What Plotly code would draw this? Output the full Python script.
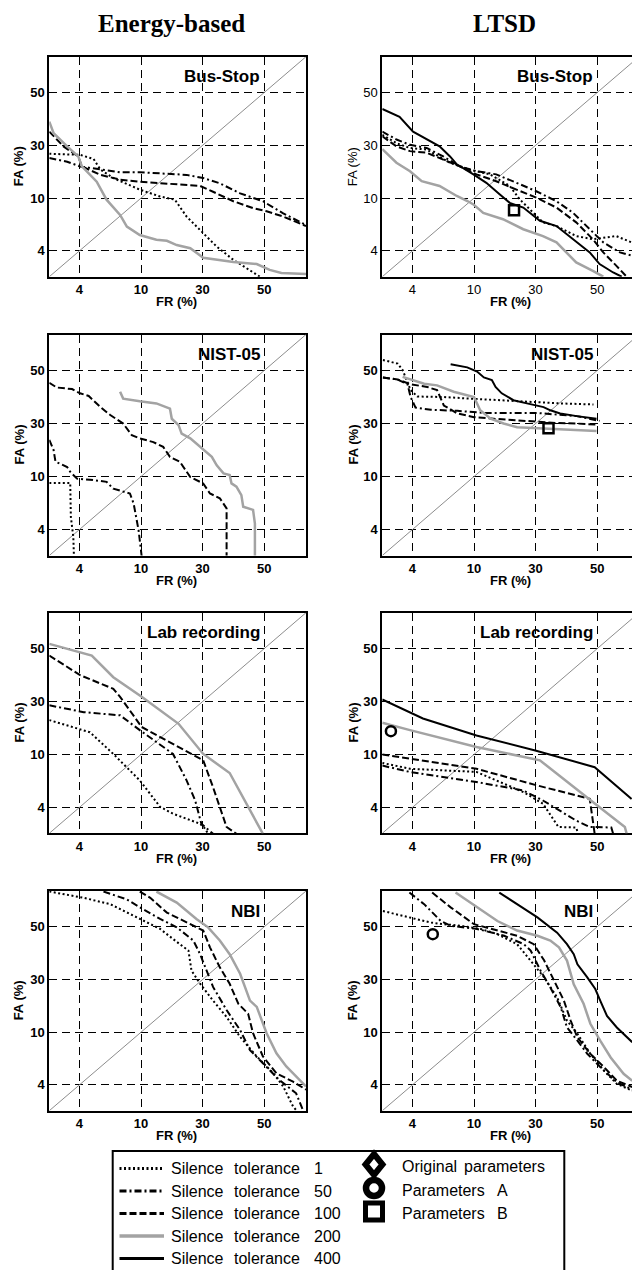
import plotly.graph_objects as go

W, H = 632, 1270

# ---------------- DATA ----------------
# Both axes use the DET (normal-deviate-like) scale of the figure, whose labelled
# ticks are equally spaced: axis unit 1 <-> 4 %, 2 <-> 10 %, 3 <-> 30 %, 4 <-> 50 %.
TICK_POS = [1, 2, 3, 4]
TICK_TEXT = ["4", "10", "30", "50"]
TOLERANCES = [1, 50, 100, 200, 400]
COLUMN_TITLES = ["Energy-based", "LTSD"]
PANEL_TITLES = ["Bus-Stop", "NIST-05", "Lab recording", "NBI"]

# Energy-based, Bus-Stop
EB_BUS_T1_FR = [0.51, 1.01, 1.23, 1.34, 1.55, 1.98, 2.31, 2.55, 2.74, 3.01, 3.23, 3.50, 3.88, 3.93]
EB_BUS_T1_FA = [2.84, 2.82, 2.74, 2.54, 2.38, 2.16, 2.03, 1.97, 1.65, 1.34, 1.08, 0.83, 0.55, 0.51]
EB_BUS_T50_FR = [0.51, 0.80, 1.01, 1.34, 1.66, 1.98, 2.36, 2.74, 3.01, 3.28, 3.61, 3.98, 4.31, 4.68]
EB_BUS_T50_FA = [2.76, 2.69, 2.60, 2.54, 2.49, 2.49, 2.47, 2.44, 2.38, 2.28, 2.09, 1.94, 1.71, 1.49]
EB_BUS_T100_FR = [0.51, 0.74, 0.98, 1.04, 1.34, 1.66, 1.98, 2.42, 2.96, 3.17, 3.50, 3.82, 4.04, 4.31, 4.68]
EB_BUS_T100_FA = [3.26, 2.98, 2.79, 2.60, 2.44, 2.35, 2.31, 2.28, 2.23, 2.12, 1.94, 1.81, 1.75, 1.65, 1.47]
EB_BUS_T200_FR = [0.51, 0.58, 0.80, 0.98, 1.04, 1.17, 1.28, 1.44, 1.66, 1.77, 1.98, 2.25, 2.42, 2.58,
                  2.80, 3.01, 3.23, 3.50, 3.88, 3.98, 4.09, 4.28, 4.68]
EB_BUS_T200_FA = [3.45, 3.23, 2.98, 2.79, 2.60, 2.44, 2.31, 1.97, 1.68, 1.46, 1.30, 1.21, 1.19, 1.11,
                  1.05, 0.87, 0.83, 0.79, 0.75, 0.70, 0.64, 0.58, 0.56]

# Energy-based, NIST-05
EB_NIST_T1_FR = [0.51, 0.85, 0.86, 0.90, 0.91]
EB_NIST_T1_FA = [1.88, 1.88, 1.24, 0.86, 0.50]
EB_NIST_T50_FR = [0.51, 0.58, 0.61, 0.80, 0.85, 0.96, 1.17, 1.44, 1.55, 1.82, 1.88, 1.96, 2.01]
EB_NIST_T50_FA = [2.69, 2.50, 2.28, 2.18, 2.09, 1.96, 1.94, 1.90, 1.77, 1.68, 1.49, 0.99, 0.50]
EB_NIST_T100_FR = [0.51, 0.63, 0.88, 1.01, 1.15, 1.34, 1.50, 1.71, 1.85, 1.98, 2.20, 2.36, 2.47, 2.63,
                   2.80, 3.01, 3.12, 3.28, 3.39, 3.39]
EB_NIST_T100_FA = [3.77, 3.68, 3.65, 3.57, 3.52, 3.31, 3.16, 3.00, 2.78, 2.72, 2.65, 2.56, 2.37, 2.28,
                   1.99, 1.87, 1.68, 1.59, 1.40, 0.50]
EB_NIST_T200_FR = [1.66, 1.71, 1.98, 2.25, 2.47, 2.50, 2.61, 2.66, 2.80, 2.96, 3.15, 3.23, 3.34, 3.44,
                   3.47, 3.55, 3.63, 3.66, 3.82, 3.85, 3.85]
EB_NIST_T200_FA = [3.60, 3.47, 3.42, 3.38, 3.28, 3.09, 2.97, 2.81, 2.72, 2.56, 2.37, 2.21, 2.06, 2.03,
                   1.87, 1.81, 1.65, 1.43, 1.37, 1.11, 0.50]

# Energy-based, Lab recording
EB_LAB_T1_FR = [0.51, 1.17, 1.55, 1.98, 2.31, 2.52, 2.96, 3.04, 3.09]
EB_LAB_T1_FA = [2.65, 2.42, 2.01, 1.51, 1.01, 0.88, 0.69, 0.60, 0.50]
EB_LAB_T50_FR = [0.51, 1.07, 1.66, 1.98, 2.52, 2.74, 2.88, 2.98, 3.17]
EB_LAB_T50_FA = [2.93, 2.80, 2.74, 2.46, 2.01, 1.51, 1.13, 0.69, 0.50]
EB_LAB_T100_FR = [0.51, 1.01, 1.55, 1.66, 2.01, 2.52, 3.01, 3.17, 3.39, 3.55]
EB_LAB_T100_FA = [3.87, 3.50, 3.24, 3.09, 2.52, 2.20, 1.89, 1.38, 0.63, 0.50]
EB_LAB_T200_FR = [0.51, 1.20, 1.55, 2.01, 2.61, 3.01, 3.44, 3.98]
EB_LAB_T200_FA = [4.09, 3.87, 3.46, 3.09, 2.58, 2.01, 1.65, 0.50]

# Energy-based, NBI
EB_NBI_T1_FR = [0.51, 1.07, 1.50, 1.98, 2.31, 2.63, 2.77, 2.82, 2.96, 3.17, 3.39, 3.61, 3.88, 4.15,
                4.31, 4.47, 4.52]
EB_NBI_T1_FA = [4.67, 4.55, 4.43, 4.15, 3.96, 3.67, 3.55, 3.17, 2.92, 2.60, 2.29, 1.91, 1.54, 1.22,
                0.97, 0.59, 0.52]
EB_NBI_T50_FR = [1.39, 1.77, 2.04, 2.31, 2.58, 2.85, 2.96, 3.04, 3.17, 3.39, 3.61, 3.77, 3.98, 4.25,
                 4.52, 4.63]
EB_NBI_T50_FA = [4.67, 4.52, 4.33, 4.15, 3.99, 3.74, 3.48, 3.23, 2.86, 2.42, 2.04, 1.66, 1.41, 1.09,
                 0.84, 0.52]
EB_NBI_T100_FR = [1.98, 2.15, 2.42, 2.74, 3.01, 3.12, 3.28, 3.44, 3.58, 3.74, 3.82, 3.98, 4.20, 4.47, 4.68]
EB_NBI_T100_FA = [4.67, 4.55, 4.27, 4.08, 3.93, 3.61, 3.23, 2.92, 2.54, 2.35, 1.98, 1.54, 1.22, 1.06, 0.91]
EB_NBI_T200_FR = [2.25, 2.58, 2.90, 3.09, 3.28, 3.44, 3.61, 3.77, 3.88, 4.04, 4.20, 4.36, 4.68]
EB_NBI_T200_FA = [4.67, 4.46, 4.15, 3.99, 3.74, 3.48, 3.11, 2.60, 2.48, 1.98, 1.60, 1.35, 0.97]

# LTSD, Bus-Stop
LT_BUS_T1_FR = [0.51, 0.74, 0.96, 1.23, 1.61, 1.93, 2.26, 2.58, 2.74, 2.91, 3.12, 3.34, 3.66, 3.93,
                4.10, 4.31, 4.56]
LT_BUS_T1_FA = [3.20, 3.04, 2.95, 2.92, 2.67, 2.54, 2.45, 2.23, 1.98, 1.79, 1.54, 1.47, 1.28, 1.22,
                1.25, 1.28, 1.16]
LT_BUS_T50_FR = [0.51, 0.74, 0.96, 1.23, 1.50, 1.77, 2.04, 2.36, 2.69, 3.01, 3.34, 3.61, 3.88, 4.10,
                 4.37, 4.56]
LT_BUS_T50_FA = [3.26, 3.11, 3.01, 2.95, 2.79, 2.60, 2.51, 2.45, 2.29, 2.13, 1.94, 1.72, 1.41, 1.16,
                 0.97, 0.91]
LT_BUS_T100_FR = [0.51, 0.74, 0.96, 1.23, 1.50, 1.77, 2.04, 2.36, 2.69, 3.01, 3.34, 3.66, 3.93, 4.10,
                  4.31, 4.48]
LT_BUS_T100_FA = [3.17, 2.98, 2.89, 2.86, 2.73, 2.60, 2.45, 2.32, 2.16, 2.01, 1.82, 1.54, 1.22, 0.97,
                  0.72, 0.51]
LT_BUS_T200_FR = [0.51, 0.74, 0.96, 1.15, 1.44, 1.72, 1.90, 1.99, 2.15, 2.47, 2.80, 3.12, 3.34, 3.66,
                  3.93, 4.10]
LT_BUS_T200_FA = [2.93, 2.67, 2.51, 2.32, 2.23, 2.04, 1.94, 1.88, 1.72, 1.60, 1.41, 1.28, 1.16, 0.78,
                  0.62, 0.51]
LT_BUS_T400_FR = [0.51, 0.79, 1.01, 1.17, 1.44, 1.61, 1.72, 1.99, 2.20, 2.42, 2.58, 2.80, 2.91, 3.07,
                  3.34, 3.61, 3.88, 4.04, 4.26, 4.40]
LT_BUS_T400_FA = [3.69, 3.54, 3.26, 3.15, 2.98, 2.79, 2.64, 2.45, 2.29, 2.07, 1.91, 1.82, 1.72, 1.57,
                  1.47, 1.22, 0.97, 0.75, 0.59, 0.51]
LT_BUS_PARAM_B = (2.65, 1.77)

# LTSD, NIST-05
LT_NIST_T1_FR = [0.52, 0.76, 0.84, 0.97, 1.08, 1.51, 1.94, 2.37, 2.86, 3.40, 3.94]
LT_NIST_T1_FA = [4.20, 4.13, 4.01, 3.63, 3.51, 3.50, 3.47, 3.44, 3.41, 3.38, 3.36]
LT_NIST_T50_FR = [0.52, 0.76, 0.92, 0.97, 1.05, 1.30, 1.73, 2.16, 2.59, 3.02, 3.34, 3.67, 4.04]
LT_NIST_T50_FA = [3.87, 3.83, 3.74, 3.50, 3.30, 3.26, 3.24, 3.20, 3.20, 3.20, 3.17, 3.14, 3.05]
LT_NIST_T100_FR = [0.52, 0.76, 0.97, 1.24, 1.40, 1.51, 1.73, 2.00, 2.32, 2.70, 3.02, 3.34, 3.67, 3.99]
LT_NIST_T100_FA = [3.87, 3.83, 3.74, 3.69, 3.63, 3.34, 3.19, 3.12, 3.09, 3.06, 3.03, 3.01, 3.00, 2.98]
LT_NIST_T200_FR = [0.84, 0.97, 1.19, 1.40, 1.67, 2.00, 2.05, 2.10, 2.27, 2.48, 2.70, 3.02, 3.24, 3.67, 3.99]
LT_NIST_T200_FA = [3.88, 3.83, 3.75, 3.72, 3.60, 3.50, 3.38, 3.25, 3.09, 3.00, 2.93, 2.91, 2.90, 2.88, 2.86]
LT_NIST_T400_FR = [1.62, 1.89, 2.05, 2.16, 2.29, 2.35, 2.45, 2.64, 2.86, 3.13, 3.24, 3.40, 3.67, 3.99]
LT_NIST_T400_FA = [4.12, 4.06, 3.98, 3.87, 3.82, 3.69, 3.57, 3.44, 3.38, 3.31, 3.25, 3.19, 3.14, 3.09]
LT_NIST_PARAM_B = (3.21, 2.91)

# LTSD, Lab recording
LT_LAB_T1_FR = [0.51, 0.96, 2.04, 2.80, 3.12, 3.37, 3.66, 3.69]
LT_LAB_T1_FA = [1.84, 1.73, 1.67, 1.29, 1.07, 0.63, 0.62, 0.50]
LT_LAB_T50_FR = [0.51, 0.96, 2.04, 2.80, 3.12, 3.66, 3.88, 4.23, 4.26]
LT_LAB_T50_FA = [1.79, 1.67, 1.48, 1.32, 1.13, 0.75, 0.63, 0.62, 0.50]
LT_LAB_T100_FR = [0.51, 0.96, 2.04, 3.01, 3.88, 3.96]
LT_LAB_T100_FA = [2.00, 1.92, 1.73, 1.42, 1.16, 0.50]
LT_LAB_T200_FR = [0.51, 0.96, 2.04, 3.07, 3.93, 4.45, 4.48]
LT_LAB_T200_FA = [2.60, 2.46, 2.14, 1.89, 1.10, 0.63, 0.50]
LT_LAB_T400_FR = [0.51, 1.17, 2.04, 3.01, 3.96, 4.56]
LT_LAB_T400_FA = [3.04, 2.68, 2.36, 2.07, 1.76, 1.16]
LT_LAB_PARAM_A = (0.65, 2.44)

# LTSD, NBI
LT_NBI_T1_FR = [0.52, 0.97, 1.30, 1.51, 1.78, 2.11, 2.38, 2.70, 2.92, 3.14, 3.35, 3.51, 3.68, 3.89,
                4.11, 4.32, 4.57]
LT_NBI_T1_FA = [4.30, 4.18, 4.08, 4.05, 4.02, 3.96, 3.86, 3.67, 3.36, 3.04, 2.66, 2.22, 1.97, 1.59,
                1.27, 1.02, 0.89]
LT_NBI_T50_FR = [0.95, 1.19, 1.46, 1.62, 2.05, 2.49, 2.81, 2.92, 3.08, 3.24, 3.41, 3.51, 3.68, 3.84,
                 4.05, 4.32, 4.57]
LT_NBI_T50_FA = [4.65, 4.43, 4.11, 4.02, 3.96, 3.83, 3.67, 3.55, 3.17, 2.85, 2.47, 2.09, 1.84, 1.59,
                 1.34, 1.05, 0.91]
LT_NBI_T100_FR = [1.32, 1.62, 2.00, 2.38, 2.70, 2.97, 3.14, 3.30, 3.46, 3.57, 3.68, 3.89, 4.11, 4.32, 4.57]
LT_NBI_T100_FA = [4.65, 4.37, 4.05, 3.93, 3.83, 3.67, 3.36, 2.98, 2.60, 2.22, 1.90, 1.59, 1.34, 1.08, 0.96]
LT_NBI_T200_FR = [1.70, 2.05, 2.38, 2.70, 3.03, 3.24, 3.38, 3.51, 3.62, 3.78, 3.89, 4.05, 4.22, 4.43, 4.57]
LT_NBI_T200_FA = [4.65, 4.37, 4.11, 3.93, 3.83, 3.74, 3.61, 3.36, 2.91, 2.54, 2.16, 1.84, 1.52, 1.21, 1.08]
LT_NBI_T400_FR = [2.41, 2.70, 3.03, 3.35, 3.51, 3.62, 3.68, 3.84, 3.97, 4.05, 4.16, 4.32, 4.57]
LT_NBI_T400_FA = [4.65, 4.43, 4.18, 3.89, 3.67, 3.48, 3.29, 3.04, 2.82, 2.60, 2.31, 2.09, 1.81]
LT_NBI_PARAM_A = (1.33, 3.86)

# ---------------- table built from the arrays ----------------
PANELS = [
    dict(row=0, col=0, curves={1: (EB_BUS_T1_FR, EB_BUS_T1_FA), 50: (EB_BUS_T50_FR, EB_BUS_T50_FA),
                               100: (EB_BUS_T100_FR, EB_BUS_T100_FA), 200: (EB_BUS_T200_FR, EB_BUS_T200_FA)},
         points=[]),
    dict(row=0, col=1, curves={1: (LT_BUS_T1_FR, LT_BUS_T1_FA), 50: (LT_BUS_T50_FR, LT_BUS_T50_FA),
                               100: (LT_BUS_T100_FR, LT_BUS_T100_FA), 200: (LT_BUS_T200_FR, LT_BUS_T200_FA),
                               400: (LT_BUS_T400_FR, LT_BUS_T400_FA)},
         points=[("B", LT_BUS_PARAM_B)]),
    dict(row=1, col=0, curves={1: (EB_NIST_T1_FR, EB_NIST_T1_FA), 50: (EB_NIST_T50_FR, EB_NIST_T50_FA),
                               100: (EB_NIST_T100_FR, EB_NIST_T100_FA), 200: (EB_NIST_T200_FR, EB_NIST_T200_FA)},
         points=[]),
    dict(row=1, col=1, curves={1: (LT_NIST_T1_FR, LT_NIST_T1_FA), 50: (LT_NIST_T50_FR, LT_NIST_T50_FA),
                               100: (LT_NIST_T100_FR, LT_NIST_T100_FA), 200: (LT_NIST_T200_FR, LT_NIST_T200_FA),
                               400: (LT_NIST_T400_FR, LT_NIST_T400_FA)},
         points=[("B", LT_NIST_PARAM_B)]),
    dict(row=2, col=0, curves={1: (EB_LAB_T1_FR, EB_LAB_T1_FA), 50: (EB_LAB_T50_FR, EB_LAB_T50_FA),
                               100: (EB_LAB_T100_FR, EB_LAB_T100_FA), 200: (EB_LAB_T200_FR, EB_LAB_T200_FA)},
         points=[]),
    dict(row=2, col=1, curves={1: (LT_LAB_T1_FR, LT_LAB_T1_FA), 50: (LT_LAB_T50_FR, LT_LAB_T50_FA),
                               100: (LT_LAB_T100_FR, LT_LAB_T100_FA), 200: (LT_LAB_T200_FR, LT_LAB_T200_FA),
                               400: (LT_LAB_T400_FR, LT_LAB_T400_FA)},
         points=[("A", LT_LAB_PARAM_A)]),
    dict(row=3, col=0, curves={1: (EB_NBI_T1_FR, EB_NBI_T1_FA), 50: (EB_NBI_T50_FR, EB_NBI_T50_FA),
                               100: (EB_NBI_T100_FR, EB_NBI_T100_FA), 200: (EB_NBI_T200_FR, EB_NBI_T200_FA)},
         points=[]),
    dict(row=3, col=1, curves={1: (LT_NBI_T1_FR, LT_NBI_T1_FA), 50: (LT_NBI_T50_FR, LT_NBI_T50_FA),
                               100: (LT_NBI_T100_FR, LT_NBI_T100_FA), 200: (LT_NBI_T200_FR, LT_NBI_T200_FA),
                               400: (LT_NBI_T400_FR, LT_NBI_T400_FA)},
         points=[("A", LT_NBI_PARAM_A)]),
]

# ---------------- styling / layout ----------------
SANS = "Liberation Sans, Arial, sans-serif"
SERIF = "Liberation Serif, Times New Roman, serif"
LINE_STYLE = {
    1: dict(color="black", width=2, dash="2px,2.5px"),
    50: dict(color="black", width=2, dash="7px,3px,2px,3px"),
    100: dict(color="black", width=2, dash="7px,3px"),
    200: dict(color="#a3a3a3", width=2.5, dash="solid"),
    400: dict(color="black", width=2, dash="solid"),
}
POINT_SYMBOL = {"A": "circle-open", "B": "square-open", "O": "diamond-open"}

AX_LO = 0.51
AX_HI = 4.68
COL_X = [(49.3, 306.0), (382.3, 632.0)]          # pixel extents of the plot boxes
ROW_Y = [(56.7, 276.7), (334.5, 555.5), (612.7, 833.3), (891.0, 1110.7)]
PX_PER_UNIT = (306.0 - 49.3) / (AX_HI - AX_LO)


def pxx(x):
    return x / W


def pxy(y):
    return 1 - y / H


fig = go.Figure()
annotations = []
shapes = []

for i, p in enumerate(PANELS, start=1):
    r, c = p["row"], p["col"]
    xs = "x" if i == 1 else f"x{i}"
    ys = "y" if i == 1 else f"y{i}"
    x0, x1 = COL_X[c]
    y0, y1 = ROW_Y[r]
    x_hi = AX_LO + (x1 - x0) / PX_PER_UNIT
    regular = (r == 0 and c == 1)
    tick_font = dict(family=SANS, size=13, color="black", weight="normal" if regular else "bold")
    common = dict(
        tickvals=TICK_POS, ticktext=TICK_TEXT, tickfont=tick_font, ticks="",
        showgrid=True, gridcolor="black", gridwidth=1, griddash="8px,5px",
        showline=True, linecolor="black", linewidth=2, zeroline=False, layer="below traces",
    )
    fig.layout["xaxis" if i == 1 else f"xaxis{i}"] = dict(
        domain=[pxx(x0), pxx(x1)], range=[AX_LO, x_hi], anchor=ys, mirror=True, **common)
    fig.layout["yaxis" if i == 1 else f"yaxis{i}"] = dict(
        domain=[pxy(y1), pxy(y0)], range=[AX_LO, AX_HI], anchor=xs, mirror=(c == 0), **common)

    # equal-error diagonal
    fig.add_trace(go.Scatter(x=[AX_LO, AX_HI], y=[AX_LO, AX_HI], mode="lines", xaxis=xs, yaxis=ys,
                             line=dict(color="#8c8c8c", width=1), showlegend=False, hoverinfo="skip"))
    for tol in TOLERANCES:
        if tol not in p["curves"]:
            continue
        fr, fa = p["curves"][tol]
        fig.add_trace(go.Scatter(x=fr, y=fa, mode="lines", xaxis=xs, yaxis=ys, line=LINE_STYLE[tol],
                                 name=f"Silence tolerance {tol}", showlegend=False))
    for key, (px_, py_) in p["points"]:
        fig.add_trace(go.Scatter(x=[px_], y=[py_], mode="markers", xaxis=xs, yaxis=ys,
                                 marker=dict(symbol=POINT_SYMBOL[key], size=10, color="black",
                                             line=dict(width=2.5, color="black")),
                                 showlegend=False))

    # panel title
    annotations.append(dict(text=PANEL_TITLES[r], x=3.97, y=4.30, xref=xs, yref=ys,
                            xanchor="right", yanchor="middle", showarrow=False,
                            font=dict(family=SANS, size=17, color="black", weight="bold")))
    # axis titles
    fr_x = 176.5 if c == 0 else 510.0
    fa_x = 18.5 if c == 0 else 352.5
    annotations.append(dict(text="FR (%)", x=pxx(fr_x), y=pxy(y1 + 25.0), xref="paper", yref="paper",
                            xanchor="center", yanchor="middle", showarrow=False,
                            font=dict(family=SANS, size=13, color="black", weight="bold")))
    annotations.append(dict(text="FA (%)", x=pxx(fa_x), y=pxy((y0 + y1) / 2), xref="paper", yref="paper",
                            xanchor="center", yanchor="middle", showarrow=False, textangle=-90,
                            font=dict(family=SANS, size=13, color="black",
                                      weight="normal" if regular else "bold")))

# column titles
for c, t in enumerate(COLUMN_TITLES):
    annotations.append(dict(text=t, x=pxx([171.0, 504.5][c]), y=pxy(23.5), xref="paper", yref="paper",
                            xanchor="center", yanchor="middle", showarrow=False,
                            font=dict(family=SERIF, size=25, color="black", weight="bold")))

# ---------------- key (framed, below the panels) ----------------
LEG_FONT = dict(family=SANS, size=16, color="black")
LEG_ROW0, LEG_DY = 1168.5, 22.5
shapes.append(dict(type="rect", xref="paper", yref="paper", x0=pxx(112.7), x1=pxx(564.3),
                   y0=pxy(1151), y1=pxy(1285), line=dict(color="black", width=2), fillcolor="white",
                   layer="below"))
for k, tol in enumerate(TOLERANCES):
    yy = LEG_ROW0 + LEG_DY * k
    st = LINE_STYLE[tol]
    shapes.append(dict(type="line", xref="paper", yref="paper", x0=pxx(119.5), x1=pxx(164),
                       y0=pxy(yy), y1=pxy(yy), line=dict(color=st["color"], width=st["width"] + 0.8,
                                                         dash=st["dash"])))
    for txt, xx in (("Silence", 168.5), ("tolerance", 231.5), (str(tol), 311.5)):
        annotations.append(dict(text=txt, x=pxx(xx), y=pxy(yy), xref="paper", yref="paper",
                                xanchor="left", yanchor="middle", showarrow=False, font=LEG_FONT))

MX = 374.0
KEY_ROWS = [("O", 1164.5, ["Original", "parameters"], [400.0, 462.0]),
            ("A", 1188.0, ["Parameters", "A"], [400.0, 495.0]),
            ("B", 1211.5, ["Parameters", "B"], [400.0, 495.0])]
TEXT_ROWS = {"O": 1166.0, "A": 1190.0, "B": 1213.0}
for key, yy, words, xs_ in KEY_ROWS:
    if key == "O":
        path = (f"M {pxx(MX)},{pxy(yy - 10.5)} L {pxx(MX + 8.5)},{pxy(yy)} "
                f"L {pxx(MX)},{pxy(yy + 10.5)} L {pxx(MX - 8.5)},{pxy(yy)} Z")
        shapes.append(dict(type="path", xref="paper", yref="paper", path=path,
                           line=dict(color="black", width=6)))
    elif key == "A":
        shapes.append(dict(type="circle", xref="paper", yref="paper", x0=pxx(MX - 8), x1=pxx(MX + 8),
                           y0=pxy(yy + 8), y1=pxy(yy - 8), line=dict(color="black", width=6.5)))
    else:
        shapes.append(dict(type="rect", xref="paper", yref="paper", x0=pxx(MX - 8.5), x1=pxx(MX + 8.5),
                           y0=pxy(yy + 8.5), y1=pxy(yy - 8.5), line=dict(color="black", width=5)))
    for w, xx in zip(words, xs_):
        annotations.append(dict(text=w, x=pxx(xx), y=pxy(TEXT_ROWS[key]), xref="paper", yref="paper",
                                xanchor="left", yanchor="middle", showarrow=False, font=LEG_FONT))

fig.update_layout(
    width=W, height=H, margin=dict(l=0, r=0, t=0, b=0),
    paper_bgcolor="white", plot_bgcolor="white", showlegend=False,
    annotations=annotations, shapes=shapes,
    font=dict(family=SANS, color="black"),
)

fig.write_html("out.html", config={"displayModeBar": False},
               post_script="document.body.style.margin='0';document.body.style.overflow='hidden';")
